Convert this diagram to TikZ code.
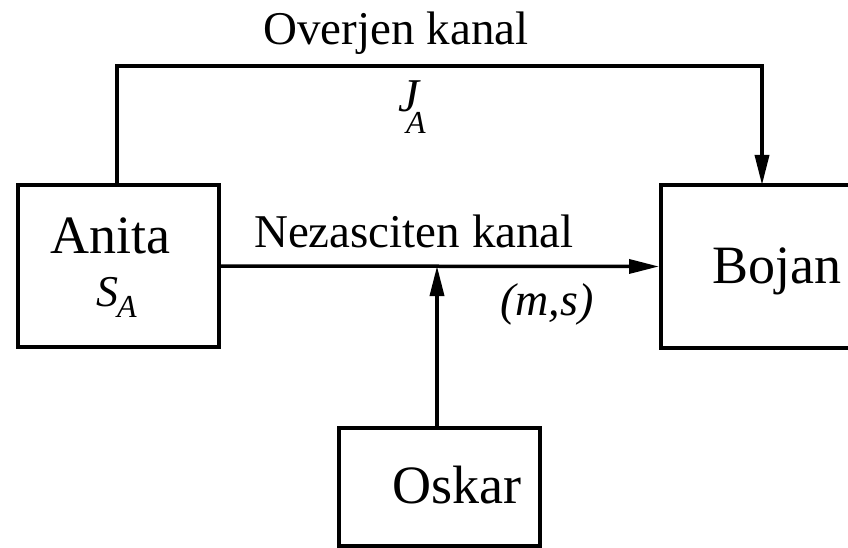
\documentclass[tikz,border=0pt]{standalone}
\usepackage{fontspec}
\setmainfont{Liberation Serif}
\usetikzlibrary{arrows.meta}
\newcommand{\lowidx}[2]{\raisebox{-#1}{\fontsize{32}{36}\selectfont #2}}
\begin{document}
\begin{tikzpicture}[x=1pt,y=-1pt,
  party/.style={draw,line width=4pt,minimum width=201pt,minimum height=162pt,inner sep=0pt},
  wire/.style={line width=3.5pt},
  arr/.style={wire,-{Triangle[length=30pt,width=14pt]}},
  big/.style={font=\fontsize{54}{58}\selectfont,anchor=base,inner sep=0pt},
  lbl/.style={font=\fontsize{47}{50}\selectfont,anchor=base,inner sep=0pt},
  sym/.style={font=\fontsize{44}{48}\selectfont\itshape,anchor=base west,inner sep=0pt}]
\useasboundingbox (0,0) rectangle (848,548);

% the three parties
\node[party] (anita) at (118.5,266) {};
\node[party,minimum width=230pt] (bojan) at (776,266.5) {};
\node[party,minimum height=118pt] (oskar) at (439,487) {};

\node[big] (anitaname) at (110,253) {Anita};
\node[sym] (sa) at (96,306) {S\kern-1pt\lowidx{11pt}{A}};
\node[big] (bojanname) at (777,283) {Bojan};
\node[big] (oskarname) at (457,503) {Oskar};

% authenticated channel over the top
\coordinate (btop) at (762,185);
\draw[arr] (anita.north -| 117,0) |- (0,66 -| btop) -- (btop);
\node[lbl] (authlbl) at (396,45) {Overjen kanal};
\node[sym,font=\fontsize{47}{50}\selectfont\itshape] (ja) at (398,112) {J\kern-13pt\lowidx{22pt}{A}};

% insecure channel and the eavesdropper's tap
\draw[arr] (anita.east) -- (bojan.west);
\node[lbl] (inseclbl) at (414,247) {Nezasciten kanal};
\node[lbl,font=\fontsize{46}{50}\selectfont\itshape] (ms) at (547,315) {(m,s)};
\draw[arr] (oskar.north -| 437,0) -- (437,266);
\end{tikzpicture}
\end{document}
